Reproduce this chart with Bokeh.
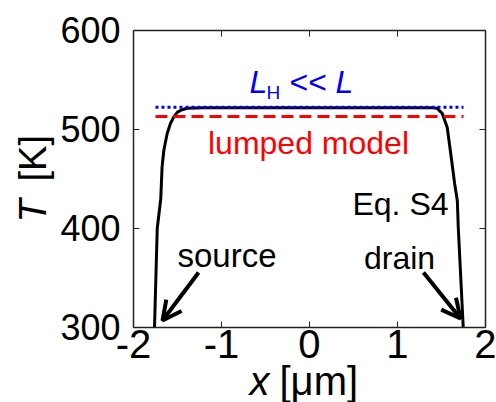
import math
from bokeh.plotting import figure
from bokeh.models import (Range1d, LinearAxis, FixedTicker, Label, Arrow, OpenHead,
                          CustomLabelingPolicy)
from bokeh.embed import file_html
from bokeh.resources import INLINE

# ---- data ----
x_curve = [-1.761, -1.73, -1.69, -1.675, -1.655, -1.617, -1.58, -1.54, -1.50, -1.45, -1.39, -1.2,
           0.0, 1.2, 1.40, 1.45, 1.51, 1.565, 1.60, 1.65, 1.68, 1.69, 1.747]
T_curve = [300, 400, 430, 462, 479, 496, 506, 513, 517.5, 520, 521.5, 522,
           522, 522, 522, 521.5, 516, 502, 479, 445, 428, 402, 300]
x_flat = [-1.75, 1.75]
T_LH = [522.5, 522.5]
T_lumped = [513, 513]
x_ticks = [-2, -1, 0, 1, 2]
x_tick_labels = {-2: "-2", -1: "-1", 0: "0", 1: "1", 2: "2"}
y_ticks = [300, 400, 500, 600]
src_arrow = (-1.26, 355.6, -1.67, 307)
drn_arrow = (1.295, 355.6, 1.716, 309)

FONT = "Liberation Sans"
AX = "#222222"

# frame spans the whole canvas; the axes are pinned at the data box edges
p = figure(width=496, height=402, output_backend="svg", toolbar_location=None,
           x_range=Range1d(-3.511, 2.125), y_range=Range1d(224.2, 630.3),
           min_border=0, x_axis_type=None, y_axis_type=None)
p.grid.visible = False
p.background_fill_color = "white"
p.border_fill_color = "white"
p.outline_line_color = None

def make_axis(ticks, loc, bounds, show_labels, size="36px", standoff=0, overrides=None):
    ax = LinearAxis(ticker=FixedTicker(ticks=ticks), fixed_location=loc, bounds=bounds,
                    major_tick_in=6, major_tick_out=0, minor_tick_line_color=None,
                    axis_line_color=AX, axis_line_width=1.5,
                    major_tick_line_color=AX, major_tick_line_width=1,
                    major_label_text_font=FONT, major_label_text_color="black",
                    major_label_text_font_size=size,
                    major_label_standoff=standoff)
    if not show_labels:
        ax.major_label_policy = CustomLabelingPolicy(code="return new Set()")
    if overrides:
        ax.major_label_overrides = overrides
    return ax

p.add_layout(make_axis(x_ticks, 300, (-2, 2), True, "40px", 3, x_tick_labels), "below")
p.add_layout(make_axis(y_ticks, -2, (300, 600), True, "36px", 13), "left")
p.add_layout(make_axis(x_ticks, 600, (-2, 2), False), "above")
p.add_layout(make_axis(y_ticks, 2, (300, 600), False), "right")

p.line(x_curve, T_curve, line_color="black", line_width=3)
p.line(x_flat, T_LH, line_color="#0000ff", line_width=3, line_dash="3 3")
p.line(x_flat, T_lumped, line_color="#ff0000", line_width=3, line_dash="12 6")

for (x0, y0, x1, y1) in (src_arrow, drn_arrow):
    p.add_layout(Arrow(x_start=x0, y_start=y0, x_end=x1, y_end=y1, line_width=4, line_color="black",
                       end=OpenHead(size=19, line_width=4, line_color="black")))

def lab(text, sx, sy, size, color="black", style="normal", align="left", angle=0):
    p.add_layout(Label(x=sx, y=sy, text=text, text_font=FONT, text_font_size=size,
                       text_color=color, text_font_style=style, text_align=align,
                       text_baseline="alphabetic", angle=angle,
                       x_units="screen", y_units="screen"))

# L_H << L
lab("L", 249, 321, "32px", "#0000ff", "italic")
lab("H", 266, 310, "19px", "#0000ff")
lab("<<", 289, 321, "32px", "#0000ff")
lab("L", 335, 321, "32px", "#0000ff", "italic")
lab("lumped model", 308, 260, "32px", "#ff0000", align="center")
lab("Eq. S4", 400, 199, "32px", align="center")
lab("source", 226.5, 147, "33px", align="center")
lab("drain", 399, 145, "32px", align="center")

# axis titles
lab("x", 249, 21.5, "40px", style="italic")
lab("[μm]", 279, 21.5, "40px")
lab("T", 32.5, 180, "38px", style="italic", angle=math.pi / 2)
lab("[K]", 32.5, 221, "38px", angle=math.pi / 2)

open("out.html", "w").write(file_html(p, INLINE))
